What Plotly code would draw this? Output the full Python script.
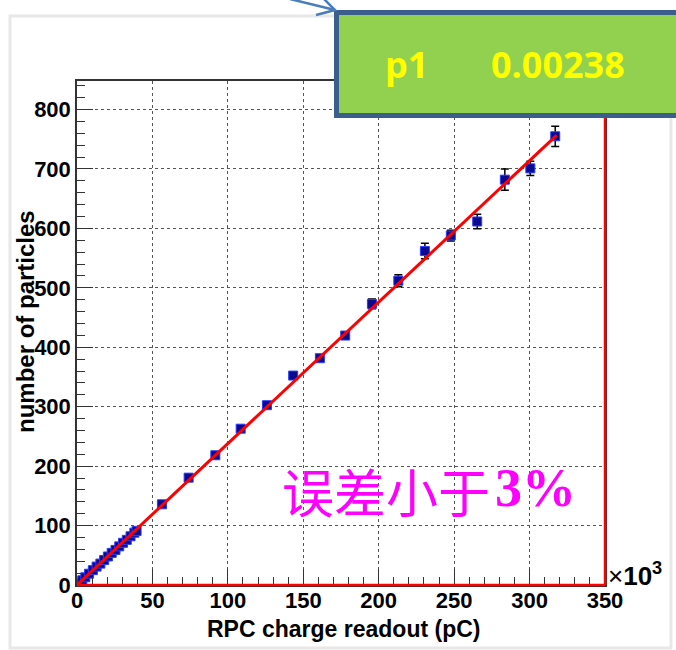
import plotly.graph_objects as go

# Measured RPC charge (units of 10^3 pC) vs. number of particles
charge = [1.5, 3.5, 5.5, 8.0, 10.5, 13.0, 15.5, 18.0, 20.5, 23.0, 25.5, 28.0,
          30.5, 33.0, 35.5, 38.0, 39.5,
          56.3, 74.0, 91.7, 108.5, 125.9, 143.3, 161.0, 177.8, 195.5, 213.0,
          230.6, 247.8, 265.3, 283.6, 300.5, 317.0]
particles = [3, 8, 13, 19, 25, 31, 36, 42, 48, 54, 59, 65,
             71, 76, 82, 88, 91,
             135.8, 180.6, 218.3, 263.0, 302.5, 352.4, 381.6, 419.7, 473.0, 512.0,
             562.0, 588.0, 611.6, 682.0, 701.0, 755.0]
particles_err = [1, 1, 1, 1, 1, 1, 1, 1, 1, 1, 1, 1,
                 1, 1, 1, 1, 1,
                 3, 4, 4, 4, 4, 4, 5, 5, 8, 10,
                 13, 9, 12, 18, 12, 17]

# Linear fit parameter (particles per pC)
p1 = 0.00238
fit_x = [0.0, 318.0]
fit_y = [p1 * 1e3 * v for v in fit_x]

x_ticks = [0, 50, 100, 150, 200, 250, 300, 350]
y_ticks = [0, 100, 200, 300, 400, 500, 600, 700, 800]

W, H = 676, 650
L, R, T, B = 77, 71, 81, 65
PW, PH = W - L - R, H - T - B


def px(xp):
    return (xp - L) / PW


def py(yp):
    return (H - B - yp) / PH


fig = go.Figure()

fig.add_trace(go.Scatter(
    x=charge, y=particles, mode="markers",
    error_y=dict(type="data", array=particles_err, color="black",
                 thickness=1.5, width=4),
    marker=dict(symbol="square", size=9, color="#0a0a90",
                line=dict(color="#2a3cff", width=1)),
    showlegend=False,
))

fig.add_trace(go.Scatter(
    x=fit_x, y=fit_y, mode="lines",
    line=dict(color="#ff0000", width=3),
    showlegend=False,
))

tick_font = dict(family="Liberation Sans, Arial", size=22, color="black", weight="bold")

fig.update_xaxes(
    range=[0, 350], tickvals=x_ticks, ticktext=[str(v) for v in x_ticks],
    ticks="inside", ticklen=16, tickcolor="#333", tickwidth=1.3,
    minor=dict(ticks="inside", ticklen=8, dtick=10, tickcolor="#333", showgrid=False),
    showline=True, mirror=True, linecolor="#333", linewidth=1.5,
    showgrid=True, griddash="dot", gridcolor="#555", gridwidth=1,
    zeroline=False, tickfont=tick_font, ticklabelstandoff=-5,
)
fig.update_yaxes(
    range=[0, 848], tickvals=y_ticks, ticktext=[str(v) for v in y_ticks],
    ticks="inside", ticklen=16, tickcolor="#333", tickwidth=1.3,
    minor=dict(ticks="inside", ticklen=8, dtick=20, tickcolor="#333", showgrid=False),
    showline=True, mirror=True, linecolor="#333", linewidth=1.5,
    showgrid=True, griddash="dot", gridcolor="#555", gridwidth=1,
    zeroline=False, tickfont=tick_font,
)

shapes = [
    # canvas border
    dict(type="rect", xref="paper", yref="paper",
         x0=px(10), x1=px(671), y0=py(648), y1=py(16),
         line=dict(color="#e8e8e8", width=3), layer="below"),
    # fit function outline along the bottom and right frame
    dict(type="line", xref="paper", yref="paper", x0=0, x1=1, y0=0, y1=0,
         line=dict(color="#ff0000", width=2.5)),
    dict(type="line", xref="paper", yref="paper", x0=1, x1=1, y0=0, y1=1,
         line=dict(color="#ff0000", width=2.5)),
    # parameter box
    dict(type="rect", xref="paper", yref="paper",
         x0=px(336.5), x1=px(685), y0=py(115.5), y1=py(12.5),
         fillcolor="#92d050", line=dict(color="#3b5e8c", width=5), layer="above"),
    # arrow pointing at the box
    dict(type="path", xref="paper", yref="paper",
         path=f"M {px(290)} {py(-1)} L {px(335)} {py(10)}",
         line=dict(color="#4a7ebb", width=2.5)),
    dict(type="path", xref="paper", yref="paper",
         path=f"M {px(316)} {py(15)} L {px(335)} {py(10)} L {px(321)} {py(-4)}",
         line=dict(color="#4a7ebb", width=2.5)),
]

annotations = [
    dict(text="p1", xref="paper", yref="paper", x=px(406), y=py(65),
         xanchor="center", yanchor="middle", showarrow=False,
         font=dict(family="Open Sans", size=36, color="#ffff00", weight="bold")),
    dict(text="0.00238", xref="paper", yref="paper", x=px(558), y=py(65),
         xanchor="center", yanchor="middle", showarrow=False,
         font=dict(family="Open Sans", size=36, color="#ffff00", weight="bold")),
    dict(text="RPC charge readout (pC)", xref="paper", yref="paper",
         x=px(343), y=py(629), xanchor="center", yanchor="middle", showarrow=False,
         font=dict(family="Liberation Sans, Arial", size=23, color="black", weight="bold")),
    dict(text="number of particles", xref="paper", yref="paper",
         x=px(25), y=py(322), xanchor="center", yanchor="middle", showarrow=False,
         textangle=-90,
         font=dict(family="Liberation Sans, Arial", size=24, color="black", weight="bold")),
    dict(text="×<b>10</b><sup><b>3</b></sup>", xref="paper", yref="paper",
         x=px(606), y=py(574), xanchor="left", yanchor="middle", showarrow=False,
         font=dict(family="Liberation Sans, Arial", size=26, color="black")),
    dict(text="误差小于", xref="paper", yref="paper",
         x=px(492), y=py(490), xanchor="right", yanchor="middle", showarrow=False,
         font=dict(family="Noto Sans CJK SC", size=52, color="#ff00ff")),
    dict(text="3%", xref="paper", yref="paper",
         x=px(493), y=py(488), xanchor="left", yanchor="middle", showarrow=False,
         font=dict(family="Liberation Serif, Times New Roman", size=54,
                   color="#ff00ff", weight="bold")),
]

fig.update_layout(
    width=W, height=H,
    margin=dict(l=L, r=R, t=T, b=B, pad=0),
    paper_bgcolor="white", plot_bgcolor="white",
    shapes=shapes, annotations=annotations,
    showlegend=False,
)

fig.write_html("out.html")
